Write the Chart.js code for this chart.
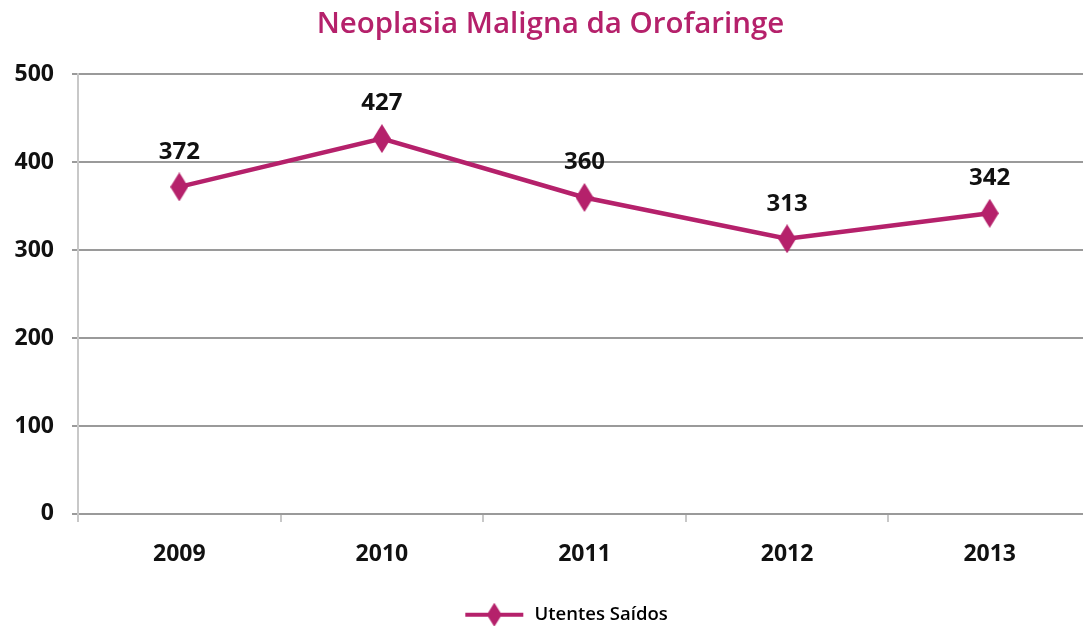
<!DOCTYPE html>
<html>
<head>
<meta charset="utf-8">
<script src="https://cdn.jsdelivr.net/npm/chart.js@4"></script>
<style>
html,body{margin:0;padding:0;background:#fff;overflow:hidden;}
#wrap{width:1083px;height:626px;overflow:hidden;}
</style>
</head>
<body>
<div id="wrap"><canvas id="c" width="1091" height="626"></canvas></div>
<script>
const categories = ['2009', '2010', '2011', '2012', '2013'];
const utentesSaidos = [372, 427, 360, 313, 342];
const yTicks = [0, 100, 200, 300, 400, 500];
const titleText = 'Neoplasia Maligna da Orofaringe';
const seriesName = 'Utentes Saídos';

const MAIN = '#B5216B';
const FONT = "'Open Sans', sans-serif";

function diamond(w, h, lineW) {
  const c = document.createElement('canvas');
  c.width = lineW || w; c.height = h;
  const ctx = c.getContext('2d');
  const cx = c.width / 2;
  if (lineW) {
    ctx.strokeStyle = MAIN; ctx.lineWidth = 4;
    ctx.beginPath(); ctx.moveTo(2, h / 2); ctx.lineTo(lineW - 2, h / 2); ctx.stroke();
  }
  ctx.fillStyle = MAIN;
  ctx.beginPath();
  ctx.moveTo(cx, 0); ctx.lineTo(cx + w / 2, h / 2); ctx.lineTo(cx, h); ctx.lineTo(cx - w / 2, h / 2);
  ctx.closePath(); ctx.fill();
  return c;
}
const pointImg = diamond(18, 29);
const legendImg = diamond(15, 24, 62);

const dataLabels = {
  id: 'dataLabels',
  afterDatasetsDraw(chart) {
    const ctx = chart.ctx;
    const meta = chart.getDatasetMeta(0);
    ctx.save();
    ctx.font = "bold 24px " + FONT;
    ctx.fillStyle = '#111';
    ctx.textAlign = 'center';
    ctx.textBaseline = 'middle';
    meta.data.forEach((pt, i) => {
      ctx.fillText(String(chart.data.datasets[0].data[i]), pt.x, pt.y - 35);
    });
    ctx.restore();
  }
};

const nudgeBoxes = {
  id: 'nudgeBoxes',
  afterLayout(chart) {
    if (chart.legend) {
      chart.legend.left += 20; chart.legend.right += 20;
      chart.legend.top += 4; chart.legend.bottom += 4;
    }
    if (chart.titleBlock) { chart.titleBlock.left += 5; chart.titleBlock.right += 5; }
  }
};

new Chart(document.getElementById('c'), {
  type: 'line',
  data: {
    labels: categories,
    datasets: [{
      label: seriesName,
      data: utentesSaidos,
      borderColor: MAIN,
      backgroundColor: MAIN,
      borderWidth: 4.5,
      pointStyle: pointImg,
      pointRadius: 10,
      tension: 0
    }]
  },
  options: {
    responsive: false,
    animation: false,
    layout: { autoPadding: false, padding: { left: 0, right: 0, top: 0, bottom: -4 } },
    plugins: {
      title: {
        display: true,
        text: titleText,
        color: MAIN,
        font: { family: FONT, size: 29.5, weight: '600' },
        padding: { top: 7, bottom: 32 }
      },
      legend: {
        position: 'bottom',
        labels: {
          usePointStyle: true,
          pointStyleWidth: 62,
          boxHeight: 24,
          color: '#111',
          font: { family: FONT, size: 18.5, weight: '600' },
          padding: 14,
          generateLabels(chart) {
            return [{ text: seriesName, pointStyle: legendImg, fillStyle: MAIN, strokeStyle: MAIN, lineWidth: 0, datasetIndex: 0, hidden: false }];
          }
        }
      },
      tooltip: { enabled: false }
    },
    scales: {
      x: {
        offset: true,
        grid: { display: true, offset: true, drawOnChartArea: false, drawTicks: true, tickLength: 8, color: '#c8c8c8', lineWidth: 2 },
        border: { display: true, color: '#9a9a9a', width: 2 },
        ticks: { color: '#111', font: { family: FONT, size: 23, weight: 'bold' }, padding: 19 }
      },
      y: {
        min: 0, max: 500,
        afterBuildTicks(axis) { axis.ticks = yTicks.map(v => ({ value: v })); },
        afterFit(axis) { axis.width = 78; },
        grid: { color: '#9a9a9a', lineWidth: 2, tickLength: 6, tickColor: '#9a9a9a' },
        border: { display: true, color: '#c8c8c8', width: 2 },
        ticks: { color: '#111', font: { family: FONT, size: 23, weight: 'bold' }, padding: 18 }
      }
    }
  },
  plugins: [dataLabels, nudgeBoxes]
});
</script>
</body>
</html>
